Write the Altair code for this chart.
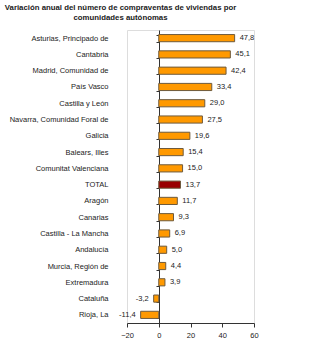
import altair as alt
import pandas as pd

categories = [
    "Asturias, Principado de", "Cantabria", "Madrid, Comunidad de", "País Vasco",
    "Castilla y León", "Navarra, Comunidad Foral de", "Galicia", "Balears, Illes",
    "Comunitat Valenciana", "TOTAL", "Aragón", "Canarias", "Castilla - La Mancha",
    "Andalucía", "Murcia, Región de", "Extremadura", "Cataluña", "Rioja, La",
]
values = [47.8, 45.1, 42.4, 33.4, 29.0, 27.5, 19.6, 15.4, 15.0, 13.7, 11.7, 9.3,
          6.9, 5.0, 4.4, 3.9, -3.2, -11.4]
x_ticks = [-20, 0, 20, 40, 60]

df = pd.DataFrame({
    "cat": categories,
    "val": values,
    "label": [f"{v:.1f}".replace(".", ",") for v in values],
    "kind": ["total" if c == "TOTAL" else "ccaa" for c in categories],
})

FONT = "Liberation Sans"

y_enc = alt.Y(
    "cat:N", sort=categories, title=None,
    scale=alt.Scale(paddingInner=0.56, paddingOuter=0.28),
    axis=alt.Axis(
        offset=-32, domainColor="#333333", domainWidth=1,
        tickBand="extent", tickSize=3, tickColor="#333333",
        labelPadding=48, labelFontSize=7.5, labelFont=FONT, labelColor="#222222",
        labelLimit=200,
    ),
)
x_enc = alt.X(
    "val:Q", title=None,
    scale=alt.Scale(domain=[-20, 60], nice=False, zero=False),
    axis=alt.Axis(
        values=x_ticks, grid=False, domainColor="#333333", tickColor="#333333",
        tickSize=4, labelFontSize=7.5, labelFont=FONT, labelColor="#222222",
        labelPadding=4, labelOverlap=False, labelFlush=False, format="d",
    ),
)

base = alt.Chart(df)

bars = base.mark_bar(stroke="#6e5a3c", strokeWidth=1).encode(
    y=y_enc, x=x_enc, x2=alt.datum(0),
    color=alt.Color("kind:N", scale=alt.Scale(domain=["ccaa", "total"],
                                               range=["#FF9900", "#990000"]), legend=None),
)

pos_txt = base.transform_filter("datum.val >= 0").mark_text(
    align="left", baseline="middle", dx=5, fontSize=7.5, font=FONT, color="#222222"
).encode(y=y_enc, x=x_enc, text="label:N")

neg_txt = base.transform_filter("datum.val < 0").mark_text(
    align="right", baseline="middle", dx=-5, fontSize=7.5, font=FONT, color="#222222"
).encode(y=y_enc, x=x_enc, text="label:N")

chart = alt.layer(bars, pos_txt, neg_txt).properties(
    width=127, height=293,
    title=alt.TitleParams(
        ["Variación anual del número de compraventas de viviendas por",
         "comunidades autónomas"],
        font=FONT, fontSize=7.8, fontWeight="bold", color="#1a1a1a",
        anchor="middle", dx=-70, offset=4, lineHeight=10,
    ),
    autosize=alt.AutoSizeParams(type="none"),
    padding={"left": 127, "right": 69, "top": 30, "bottom": 27},
).configure_view(stroke=None).configure_axisX(labelOverlap=False).configure(background="white")

chart.save("out.html", embed_options={"renderer": "svg", "actions": False})
